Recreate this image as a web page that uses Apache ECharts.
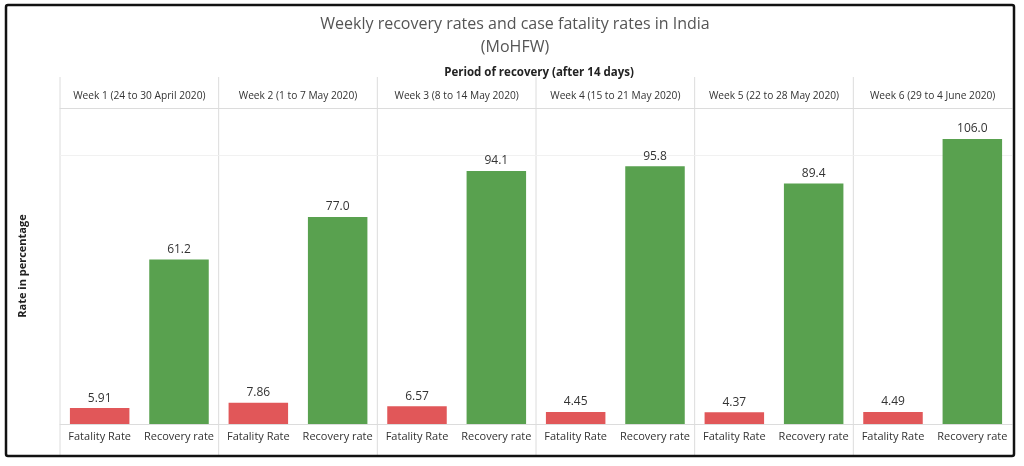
<!DOCTYPE html>
<html>
<head>
<meta charset="utf-8">
<script src="https://cdn.jsdelivr.net/npm/echarts@6/dist/echarts.min.js"></script>
<style>
  html, body { margin: 0; padding: 0; background: #fff; }
  #chart { width: 1024px; height: 466px; }
</style>
</head>
<body>
<div id="chart"></div>
<script type="text/javascript">
    // weeks (column headers)
    var weeks = [
        'Week 1 (24 to 30 April 2020)',
        'Week 2 (1 to 7 May 2020)',
        'Week 3 (8 to 14 May 2020)',
        'Week 4 (15 to 21 May 2020)',
        'Week 5 (22 to 28 May 2020)',
        'Week 6 (29 to 4 June 2020)'
    ];
    // bars inside each week
    var categories = ['Fatality Rate', 'Recovery rate'];
    var fatalityRate = [5.91, 7.86, 6.57, 4.45, 4.37, 4.49];
    var recoveryRate = [61.2, 77.0, 94.1, 95.8, 89.4, 106.0];

    var FONT = '"Open Sans", "Noto Sans", sans-serif';
    var colors = ['#e15759', '#59a14f'];

    // layout
    var panelLeft = 60, panelRight = 1012;
    var panelW = (panelRight - panelLeft) / weeks.length;
    var plotTop = 108, plotBottom = 424;

    var chart = echarts.init(document.getElementById('chart'));

    var grids = [], xAxes = [], yAxes = [], series = [], lines = [];

    for (var i = 0; i < weeks.length; i++) {
        grids.push({
            left: panelLeft + i * panelW,
            width: panelW,
            top: plotTop,
            height: plotBottom - plotTop
        });
        // bottom axis: bar names
        xAxes.push({
            type: 'category',
            gridIndex: i,
            data: categories,
            axisLine: { lineStyle: { color: '#dcdcdc' } },
            axisTick: { show: false },
            axisLabel: { interval: 0, color: '#333', fontFamily: FONT, fontSize: 11, margin: 7 }
        });
        // top axis: week header
        xAxes.push({
            type: 'category',
            gridIndex: i,
            position: 'top',
            data: [weeks[i]],
            axisLine: { lineStyle: { color: '#dcdcdc' } },
            axisTick: { show: false },
            axisLabel: { interval: 0, color: '#333', fontFamily: FONT, fontSize: 10.2, margin: 7 }
        });
        yAxes.push({
            type: 'value',
            gridIndex: i,
            min: 0,
            max: 117.5,
            interval: 100,
            axisLine: { show: false },
            axisTick: { show: false },
            axisLabel: { show: false },
            splitLine: { lineStyle: { color: '#f1f1f1' } },
            name: i === 0 ? 'Rate in percentage' : '',
            nameLocation: 'middle',
            nameGap: 32,
            nameTextStyle: { color: '#222', fontFamily: FONT, fontSize: 11, fontWeight: 'bold' }
        });
        var vals = [fatalityRate[i], recoveryRate[i]];
        series.push({
            type: 'bar',
            xAxisIndex: 2 * i,
            yAxisIndex: i,
            barWidth: '75%',
            data: vals.map(function (v, k) {
                return {
                    value: v,
                    itemStyle: { color: colors[k] },
                    label: { formatter: k === 0 ? v.toFixed(2) : v.toFixed(1) }
                };
            }),
            label: {
                show: true,
                position: 'top',
                distance: 4,
                color: '#333',
                fontFamily: FONT,
                fontSize: 12
            }
        });
        // panel separators
        lines.push({
            type: 'line',
            shape: { x1: panelLeft + i * panelW, y1: 77, x2: panelLeft + i * panelW, y2: 456 },
            style: { stroke: '#dcdcdc', lineWidth: 1 },
            silent: true
        });
    }

    // outer frame
    lines.push({
        type: 'rect',
        shape: { x: 6, y: 5, width: 1008, height: 451, r: 2 },
        style: { fill: 'none', stroke: '#111', lineWidth: 2.5 },
        silent: true,
        z: 10
    });

    var option = {
        backgroundColor: '#fff',
        animation: false,
        title: [{
            text: 'Weekly recovery rates and case fatality rates in India\n(MoHFW)',
            left: 510,
            top: 8,
            textAlign: 'center',
            textStyle: { color: '#555', fontFamily: FONT, fontSize: 16, fontWeight: 'normal', lineHeight: 23 }
        }, {
            text: 'Period of recovery (after 14 days)',
            left: 534,
            top: 62,
            textAlign: 'center',
            textStyle: { color: '#222', fontFamily: FONT, fontSize: 11.5, fontWeight: 'bold' }
        }],
        grid: grids,
        xAxis: xAxes,
        yAxis: yAxes,
        series: series,
        graphic: lines
    };
    chart.setOption(option);
</script>
</body>
</html>
